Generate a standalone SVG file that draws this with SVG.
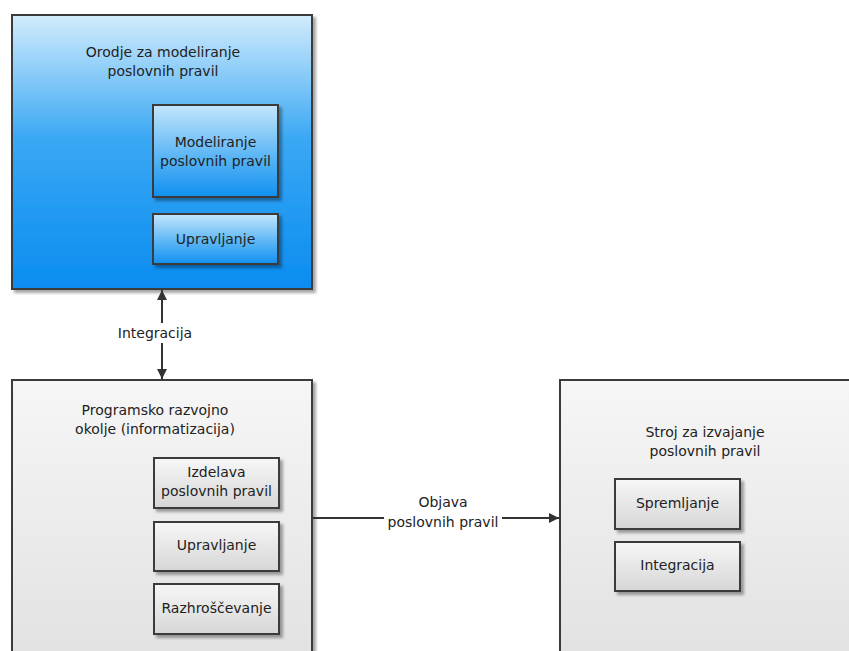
<svg xmlns="http://www.w3.org/2000/svg" width="849" height="651" viewBox="0 0 849 651">
  <defs>
    <linearGradient id="blueOuter" x1="0" y1="0" x2="0" y2="1">
      <stop offset="0" stop-color="#d2ecfc"/>
      <stop offset="0.45" stop-color="#3aa8f4"/>
      <stop offset="1" stop-color="#0a8cf0"/>
    </linearGradient>
    <linearGradient id="blueInner" x1="0" y1="0" x2="0" y2="1">
      <stop offset="0" stop-color="#c4e6fb"/>
      <stop offset="0.55" stop-color="#5cb6f5"/>
      <stop offset="1" stop-color="#1190f0"/>
    </linearGradient>
    <linearGradient id="grayOuter" x1="0" y1="0" x2="0" y2="1">
      <stop offset="0" stop-color="#f6f6f6"/>
      <stop offset="1" stop-color="#dedede"/>
    </linearGradient>
    <linearGradient id="grayInner" x1="0" y1="0" x2="0" y2="1">
      <stop offset="0" stop-color="#f7f7f7"/>
      <stop offset="1" stop-color="#d6d6d6"/>
    </linearGradient>
    <filter id="shadow" x="-10%" y="-10%" width="130%" height="130%">
      <feDropShadow dx="3" dy="3" stdDeviation="1.5" flood-color="#000" flood-opacity="0.35"/>
    </filter>
    <marker id="arrow" viewBox="0 0 10 10" refX="10" refY="5" markerWidth="10" markerHeight="10" markerUnits="userSpaceOnUse" orient="auto-start-reverse">
      <path d="M0,0 L10,5 L0,10 Z" fill="#333"/>
    </marker>
  </defs>
  <style>
    .box { stroke: #3a3a3a; stroke-width: 2; filter: url(#shadow); }
    .t { font-family: "DejaVu Sans", "Liberation Sans", sans-serif; font-size: 14px; fill: #222; text-anchor: middle; }
    .conn { stroke: #333; stroke-width: 2; fill: none; }
  </style>

  <rect width="849" height="651" fill="#fff"/>

  <!-- Modeling tool -->
  <g id="modeling-tool">
    <rect class="box" x="12" y="15" width="300" height="274" fill="url(#blueOuter)"/>
    <text class="t" x="163" y="57">Orodje za modeliranje</text>
    <text class="t" x="163" y="76">poslovnih pravil</text>
  </g>
  <g id="modeling-rules">
    <rect class="box" x="153" y="105" width="125" height="92" fill="url(#blueInner)"/>
    <text class="t" x="215.5" y="147">Modeliranje</text>
    <text class="t" x="215.5" y="166">poslovnih pravil</text>
  </g>
  <g id="modeling-management">
    <rect class="box" x="153" y="214" width="125" height="50" fill="url(#blueInner)"/>
    <text class="t" x="215.5" y="244">Upravljanje</text>
  </g>

  <!-- Development environment -->
  <g id="dev-environment">
    <rect class="box" x="12" y="380" width="300" height="330" fill="url(#grayOuter)"/>
    <text class="t" x="155" y="415">Programsko razvojno</text>
    <text class="t" x="155" y="434">okolje (informatizacija)</text>
  </g>
  <g id="dev-authoring">
    <rect class="box" x="154" y="458" width="125" height="50" fill="url(#grayInner)"/>
    <text class="t" x="216.5" y="477">Izdelava</text>
    <text class="t" x="216.5" y="496">poslovnih pravil</text>
  </g>
  <g id="dev-management">
    <rect class="box" x="154" y="522" width="125" height="49" fill="url(#grayInner)"/>
    <text class="t" x="216.5" y="550">Upravljanje</text>
  </g>
  <g id="dev-debugging">
    <rect class="box" x="154" y="584" width="125" height="50" fill="url(#grayInner)"/>
    <text class="t" x="216.5" y="613">Razhroščevanje</text>
  </g>

  <!-- Rule execution engine -->
  <g id="rule-engine">
    <rect class="box" x="560" y="380" width="320" height="330" fill="url(#grayOuter)"/>
    <text class="t" x="705" y="437">Stroj za izvajanje</text>
    <text class="t" x="705" y="456">poslovnih pravil</text>
  </g>
  <g id="engine-storage">
    <rect class="box" x="615" y="479" width="125" height="50" fill="url(#grayInner)"/>
    <text class="t" x="677.5" y="508">Spremljanje</text>
  </g>
  <g id="engine-integration">
    <rect class="box" x="615" y="542" width="125" height="49" fill="url(#grayInner)"/>
    <text class="t" x="677.5" y="570">Integracija</text>
  </g>

  <!-- Connectors -->
  <g id="connectors">
    <line class="conn" x1="162" y1="290" x2="162" y2="379" marker-start="url(#arrow)" marker-end="url(#arrow)"/>
    <rect x="114" y="323" width="82" height="20" fill="#fff"/>
    <text class="t" x="155" y="338">Integracija</text>

    <line class="conn" x1="313" y1="518" x2="559" y2="518" marker-end="url(#arrow)"/>
    <rect x="384" y="512" width="118" height="17" fill="#fff"/>
    <text class="t" x="443" y="507">Objava</text>
    <text class="t" x="443" y="527">poslovnih pravil</text>
  </g>
</svg>
